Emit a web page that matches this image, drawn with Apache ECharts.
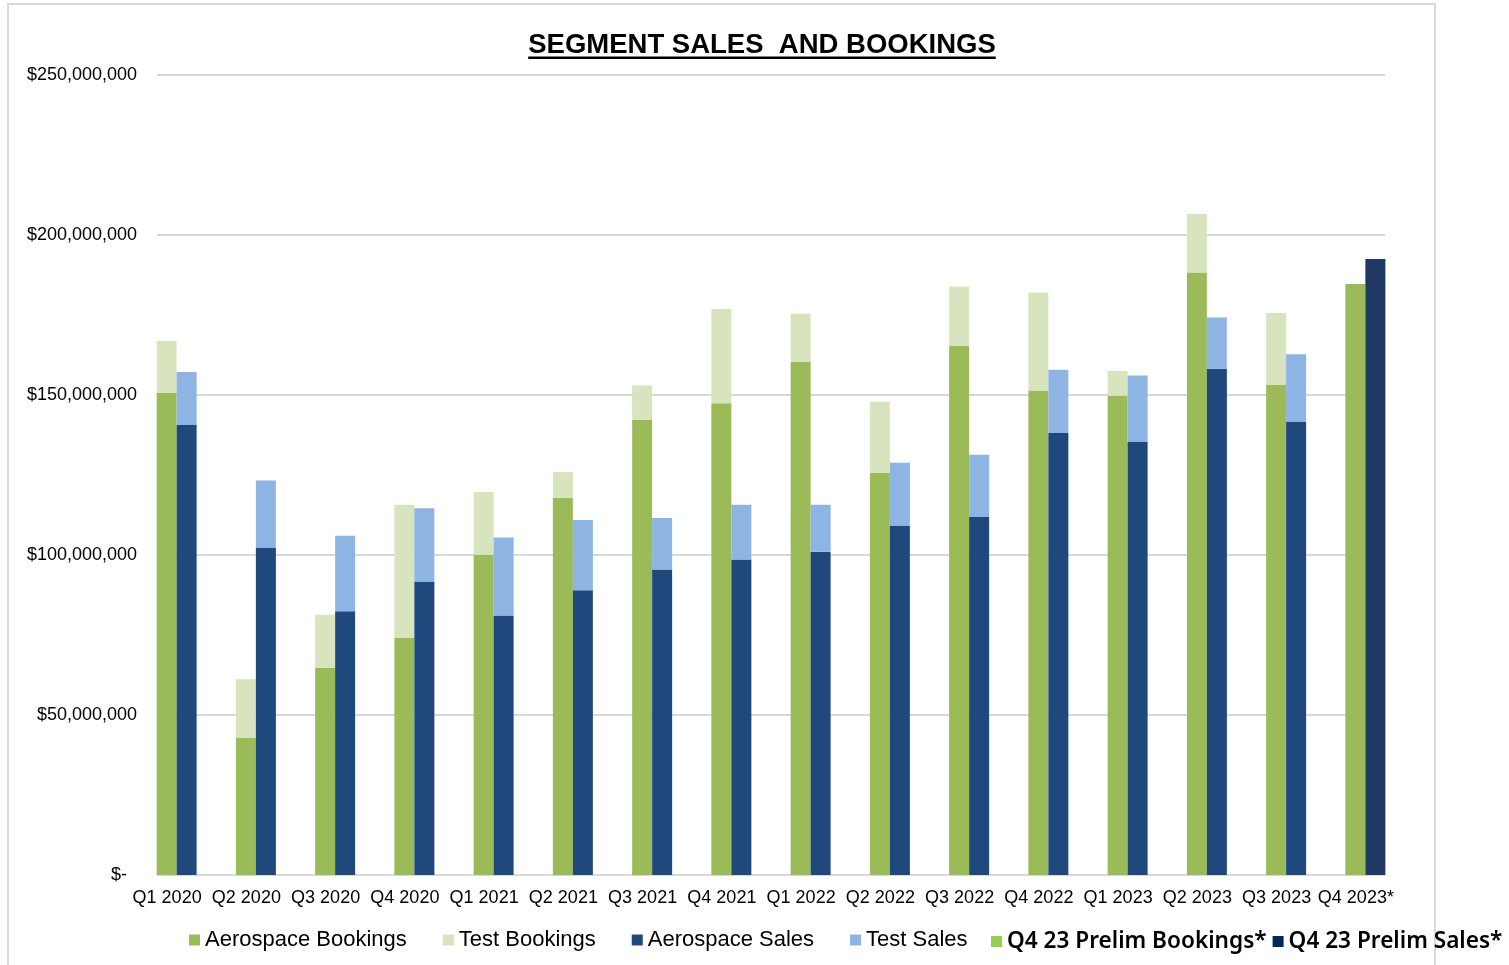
<!DOCTYPE html>
<html>
<head>
<meta charset="utf-8">
<script src="https://cdn.jsdelivr.net/npm/echarts@6/dist/echarts.min.js"></script>
<style>
  html, body { margin: 0; padding: 0; background: #fff; }
  #chart { width: 1509px; height: 965px; }
</style>
</head>
<body>
<div id="chart"></div>
<script>
// quarters on the x axis
var quarters = ['Q1 2020', 'Q2 2020', 'Q3 2020', 'Q4 2020', 'Q1 2021', 'Q2 2021', 'Q3 2021', 'Q4 2021',
  'Q1 2022', 'Q2 2022', 'Q3 2022', 'Q4 2022', 'Q1 2023', 'Q2 2023', 'Q3 2023', 'Q4 2023*'];

// values in millions of dollars
var aeroBookings = [150.6, 42.8, 64.7, 74.1, 100.1, 117.9, 142.2, 147.4, 160.3, 125.7, 165.4, 151.4, 149.8, 188.3, 153.1, null];
var testBookings = [16.3, 18.4, 16.6, 41.6, 19.6, 8.0, 10.8, 29.5, 15.1, 22.2, 18.5, 30.6, 7.7, 18.3, 22.5, null];
var aeroSales = [140.6, 102.2, 82.4, 91.7, 81.1, 89.0, 95.5, 98.6, 101.0, 109.2, 111.9, 138.1, 135.3, 158.2, 141.7, null];
var testSales = [16.6, 21.1, 23.6, 22.9, 24.4, 21.9, 16.1, 17.1, 14.7, 19.6, 19.4, 19.8, 20.8, 16.0, 21.0, null];
var prelimBookings = [null, null, null, null, null, null, null, null, null, null, null, null, null, null, null, 184.7];
var prelimSales = [null, null, null, null, null, null, null, null, null, null, null, null, null, null, null, 192.5];

var yMax = 250;
var yStep = 50;

var chart = echarts.init(document.getElementById('chart'));

// measure title so the underline fits it
var titleText = 'SEGMENT SALES  AND BOOKINGS';
var titleFont = 'bold 27.5px "Liberation Sans", Arial, sans-serif';
var ctx = document.createElement('canvas').getContext('2d');
ctx.font = titleFont;
var titleW = ctx.measureText(titleText).width;
var titleCx = 762;

function bar(name, stack, color, data) {
  return {
    name: name,
    type: 'bar',
    stack: stack,
    xAxisIndex: 1,
    yAxisIndex: 1,
    barWidth: 20,
    barGap: '0%',
    itemStyle: { color: color },
    data: data
  };
}

var axisFont = { fontFamily: '"Liberation Sans", Arial, sans-serif', fontSize: 18, color: '#000' };

var option = {
  animation: false,
  backgroundColor: '#fff',
  graphic: [
    {
      type: 'rect',
      shape: { x: 8, y: 4, width: 1427, height: 1000 },
      style: { fill: 'none', stroke: '#d9d9d9', lineWidth: 2 },
      silent: true
    },
    {
      type: 'text',
      x: titleCx,
      y: 45,
      style: {
        text: titleText,
        font: titleFont,
        fill: '#000',
        align: 'center',
        verticalAlign: 'middle'
      }
    },
    {
      type: 'rect',
      shape: { x: titleCx - titleW / 2, y: 56.5, width: titleW, height: 2.5 },
      style: { fill: '#000' }
    }
  ],
  legend: [
    {
      left: 189,
      top: 929,
      padding: 0,
      itemWidth: 11,
      itemHeight: 11,
      itemGap: 36,
      icon: 'rect',
      textStyle: { fontFamily: '"Liberation Sans", Arial, sans-serif', fontSize: 22, color: '#000' },
      data: ['Aerospace Bookings', 'Test Bookings', 'Aerospace Sales', 'Test Sales']
    },
    {
      left: 991,
      top: 930,
      padding: 0,
      itemWidth: 11,
      itemHeight: 11,
      itemGap: 6,
      icon: 'rect',
      textStyle: { fontFamily: '"Noto Sans", "Open Sans", sans-serif', fontSize: 22.6, fontWeight: 600, color: '#000' },
      data: [
        { name: 'Q4 23 Prelim Bookings*', itemStyle: { color: '#92D050' } },
        { name: 'Q4 23 Prelim Sales*', itemStyle: { color: '#002858' } }
      ]
    }
  ],
  grid: [
    { left: 157, right: 124, top: 75, bottom: 90 },
    { left: 137, right: 104, top: 75, bottom: 90 }
  ],
  xAxis: [
    { type: 'category', gridIndex: 0, data: quarters, show: false },
    {
      type: 'category',
      gridIndex: 1,
      data: quarters,
      axisLine: { show: false },
      axisTick: { show: false },
      axisLabel: Object.assign({ margin: 14, interval: 0, padding: [0, 19, 0, 0] }, axisFont)
    }
  ],
  yAxis: [
    {
      type: 'value',
      gridIndex: 0,
      min: 0,
      max: yMax,
      interval: yStep,
      axisLine: { show: false },
      axisTick: { show: false },
      splitLine: { lineStyle: { color: '#d9d9d9', width: 2 } },
      axisLabel: Object.assign({
        margin: 20,
        formatter: function (v) {
          if (v === 0) return '$-  ';
          return '$' + (v * 1e6).toLocaleString('en-US');
        }
      }, axisFont)
    },
    { type: 'value', gridIndex: 1, min: 0, max: yMax, interval: yStep, show: false }
  ],
  series: [
    bar('Aerospace Bookings', 'bookings', '#9BBB59', aeroBookings),
    bar('Test Bookings', 'bookings', '#D7E4BD', testBookings),
    bar('Aerospace Sales', 'sales', '#1F497D', aeroSales),
    bar('Test Sales', 'sales', '#8EB4E3', testSales),
    bar('Q4 23 Prelim Bookings*', 'bookings', '#9BBB59', prelimBookings),
    bar('Q4 23 Prelim Sales*', 'sales', '#1F3864', prelimSales)
  ]
};

chart.setOption(option);
</script>
</body>
</html>
